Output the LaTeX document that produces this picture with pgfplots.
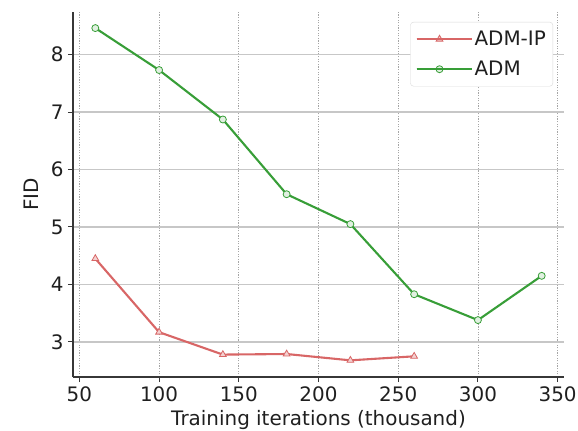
\documentclass[border=0pt]{standalone}
\usepackage{pgfplots}
\pgfplotsset{compat=1.18}
\usepackage{fontspec}
\setmainfont{DejaVu Sans}
\definecolor{admip}{RGB}{216,102,102}
\definecolor{adm}{RGB}{56,158,56}
\definecolor{spine}{RGB}{55,55,55}
\begin{document}
\begin{tikzpicture}[x=1bp,y=1bp]
\begin{axis}[
  at={(0,0)}, anchor=south west,
  scale only axis, width=491bp, height=365bp,
  xmin=46, xmax=354, ymin=2.39, ymax=8.74,
  axis x line*=bottom, axis y line*=left,
  axis line style={spine, line width=1.4bp, -},
  xtick={50,100,...,350}, ytick={3,4,5,6,7,8},
  tick style={spine, line width=1bp},
  tick align=outside, major tick length=5bp,
  /pgf/number format/assume math mode=true,
  ticklabel style={font=\fontsize{20}{24}\selectfont, text=black!88},
  yticklabel style={xshift=-1bp},
  xticklabel style={yshift=-1bp},
  label style={font=\fontsize{20}{24}\selectfont, text=black!88},
  xlabel={Training iterations (thousand)},
  ylabel={FID},
  xlabel style={yshift=-2bp},
  ylabel style={yshift=5bp},
  grid=major,
  x grid style={black!35, dash pattern=on 1.2bp off 1.4bp, line width=0.7bp},
  y grid style={black!22, line width=1.2bp},
  legend style={at={(1,1)}, anchor=north east, xshift=-11bp, yshift=-10bp,
     draw=black!15, rounded corners=3bp,
     font=\fontsize{20}{24}\selectfont, row sep=10bp, inner xsep=5bp, inner ysep=7bp, text=black!88},
  legend cell align=left,
  legend image code/.code={\draw[#1, mark repeat=2, mark phase=2] plot coordinates {(0bp,0bp) (23bp,0bp) (46bp,0bp)};
     \path (0bp,0bp) -- (55bp,0bp);},
]
\addplot[admip, line width=2.1bp, mark=triangle*, mark size=3.9bp,
  mark options={fill=admip!30, draw=admip, line width=0.8bp}]
  coordinates {(60,4.45) (100,3.17) (140,2.78) (180,2.79) (220,2.68) (260,2.75)};
\addlegendentry{ADM-IP}
\addplot[adm, line width=2.1bp, mark=*, mark size=3.5bp,
  mark options={fill=adm!15, draw=adm, line width=0.8bp}]
  coordinates {(60,8.46) (100,7.73) (140,6.87) (180,5.57) (220,5.05) (260,3.83) (300,3.38) (340,4.15)};
\addlegendentry{ADM}
\end{axis}
\pgfresetboundingbox
\path (-73,-53) rectangle (505,377);
\end{tikzpicture}
\end{document}
